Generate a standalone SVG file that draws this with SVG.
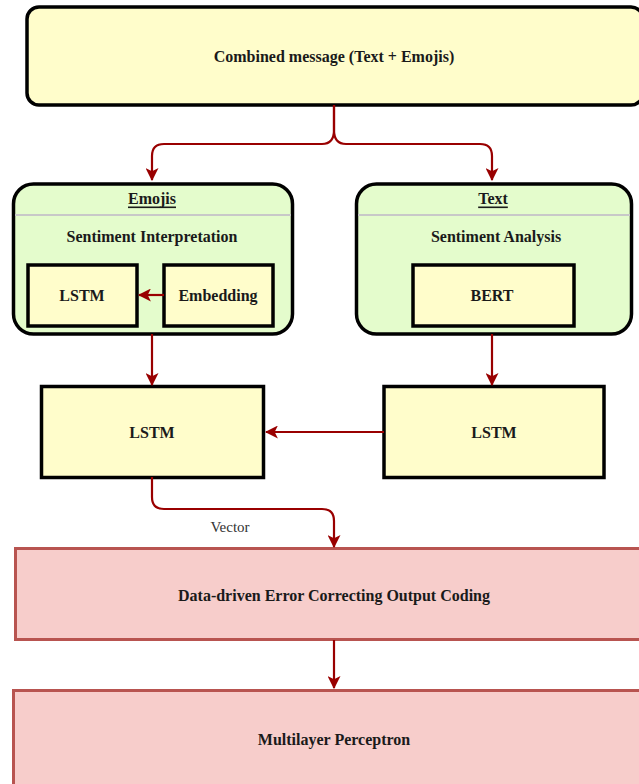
<svg xmlns="http://www.w3.org/2000/svg" width="639" height="784" viewBox="0 0 639 784">
  <defs>
    <marker id="arrow" viewBox="0 0 12 12" refX="11" refY="6" markerWidth="13" markerHeight="13" markerUnits="userSpaceOnUse" orient="auto">
      <path d="M0,0 L12,6 L0,12 L3,6 Z" fill="#990000"/>
    </marker>
  </defs>
  <style>
    text { font-family: 'Liberation Serif', 'DejaVu Serif', serif; }
    .lbl { font-weight: bold; font-size: 16px; fill: #1a1a1a; text-anchor: middle; dominant-baseline: central; }
    .plain { font-size: 15px; fill: #333; text-anchor: middle; dominant-baseline: central; }
    .yellow { fill: #fffdcb; stroke: #000; stroke-width: 3.5; }
    .green { fill: #e4fccc; stroke: #000; stroke-width: 3.5; }
    .pink { fill: #f7cdcb; stroke: #b85450; stroke-width: 3; }
    .edge { fill: none; stroke: #990000; stroke-width: 2.2; marker-end: url(#arrow); }
  </style>
  <rect width="639" height="784" fill="#fff"/>

  <g id="combined">
    <rect class="yellow" x="27" y="7" width="616" height="98" rx="12"/>
    <text class="lbl" x="334" y="56">Combined message (Text + Emojis)</text>
  </g>

  <g id="emojis">
    <rect class="green" x="13.5" y="184" width="279" height="150" rx="20"/>
    <line x1="15" y1="215" x2="291" y2="215" stroke="#c8c8c8" stroke-width="2"/>
    <text class="lbl" x="152" y="198" text-decoration="underline">Emojis</text>
    <text class="lbl" x="152" y="236">Sentiment Interpretation</text>
  </g>
  <g id="emoji-lstm">
    <rect class="yellow" x="28" y="265" width="109" height="61"/>
    <text class="lbl" x="82" y="295">LSTM</text>
  </g>
  <g id="embedding">
    <rect class="yellow" x="164" y="265" width="109" height="61"/>
    <text class="lbl" x="218" y="295">Embedding</text>
  </g>

  <g id="text">
    <rect class="green" x="356.5" y="184" width="275" height="150" rx="20"/>
    <line x1="358" y1="215" x2="630" y2="215" stroke="#c8c8c8" stroke-width="2"/>
    <text class="lbl" x="493" y="198" text-decoration="underline">Text</text>
    <text class="lbl" x="496" y="236">Sentiment Analysis</text>
  </g>
  <g id="bert">
    <rect class="yellow" x="413" y="265" width="161" height="61"/>
    <text class="lbl" x="492" y="295">BERT</text>
  </g>

  <g id="lstm-left">
    <rect class="yellow" x="41.5" y="386.5" width="222" height="91"/>
    <text class="lbl" x="152" y="432">LSTM</text>
  </g>
  <g id="lstm-right">
    <rect class="yellow" x="384" y="386.5" width="220" height="91"/>
    <text class="lbl" x="494" y="432">LSTM</text>
  </g>

  <g id="ecoc">
    <rect class="pink" x="15.5" y="548.5" width="630" height="91"/>
    <text class="lbl" x="334" y="595">Data-driven Error Correcting Output Coding</text>
  </g>
  <g id="mlp">
    <rect class="pink" x="13.5" y="690.5" width="632" height="96"/>
    <text class="lbl" x="334" y="739">Multilayer Perceptron</text>
  </g>

  <g id="connectors">
    <path class="edge" d="M334,105 V130 Q334,144 322,144 H164 Q152,144 152,156 V180"/>
    <path class="edge" d="M334,105 V130 Q334,144 346,144 H480 Q492,144 492,156 V180"/>
    <path class="edge" d="M164,295 H139"/>
    <path class="edge" d="M152,334 V385"/>
    <path class="edge" d="M492,334 V385"/>
    <path class="edge" d="M384,432 H266"/>
    <path class="edge" d="M152,477 V497 Q152,509 164,509 H322 Q334,509 334,521 V547"/>
    <path class="edge" d="M334,640 V688"/>
    <text class="plain" x="230" y="527">Vector</text>
  </g>
</svg>
